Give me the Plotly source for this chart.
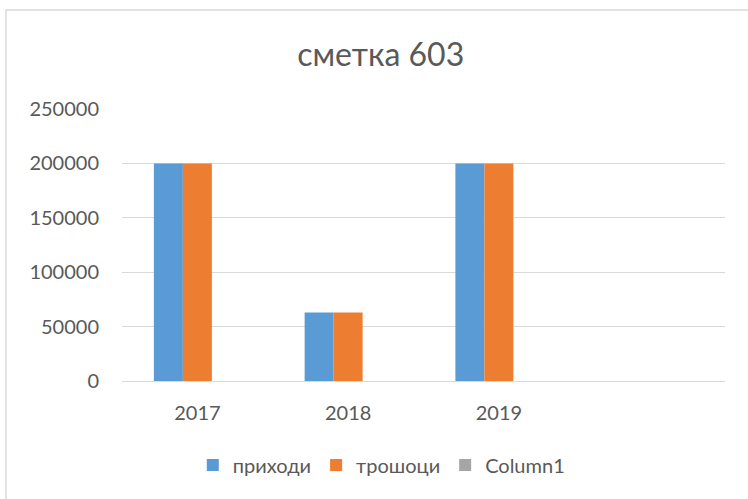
import plotly.graph_objects as go

years = ["2017", "2018", "2019"]
prihodi = [200000, 63000, 200000]
troshoci = [200000, 63000, 200000]
column1 = [0, 0, 0]

blue = "#5B9BD5"
orange = "#ED7D31"
gray = "#A5A5A5"
txt = "#595959"
grid = "#D9D9D9"
font = "Lato, 'Open Sans', sans-serif"

fig = go.Figure()
fig.add_trace(go.Bar(x=years, y=prihodi, name="приходи", marker=dict(color=blue, line=dict(width=0))))
fig.add_trace(go.Bar(x=years, y=troshoci, name="трошоци", marker=dict(color=orange, line=dict(width=0))))
fig.add_trace(go.Bar(x=years, y=column1, name="Column1", marker=dict(color=gray, line=dict(width=0))))

fig.update_layout(
    width=748, height=499,
    margin=dict(l=122, r=23, t=109, b=118),
    paper_bgcolor="white", plot_bgcolor="white",
    barmode="group", bargap=0.423, bargroupgap=0,
    font=dict(family=font, color=txt, size=20),
    title=dict(text="сметка 603", x=0.509, xref="container", y=0.89, yref="container",
               xanchor="center", yanchor="middle", font=dict(size=32, color=txt, family=font)),
    legend=dict(orientation="h", x=0.43, xanchor="center", y=-0.309, yanchor="middle",
                font=dict(size=20, color=txt), itemwidth=30, traceorder="normal"),
    xaxis=dict(type="category", range=[-0.5, 3.5], showgrid=False, showline=True, linecolor=grid,
               linewidth=1, ticks="", ticklabelstandoff=14, tickfont=dict(size=20, color=txt)),
    yaxis=dict(range=[0, 250000], dtick=50000, showgrid=True, gridcolor=grid, gridwidth=1,
               zeroline=False, showline=False, ticks="", ticklabelstandoff=22,
               tickformat="d", tickfont=dict(size=20, color=txt)),
    shapes=[dict(type="rect", xref="paper", yref="paper", x0=-0.1924, x1=1.6, y0=1.364, y1=-1.0,
                 line=dict(color=grid, width=1.5), fillcolor="rgba(0,0,0,0)", layer="below")],
)

fig.write_html("out.html", config={"displayModeBar": False},
               post_script="document.body.style.margin='0';")
